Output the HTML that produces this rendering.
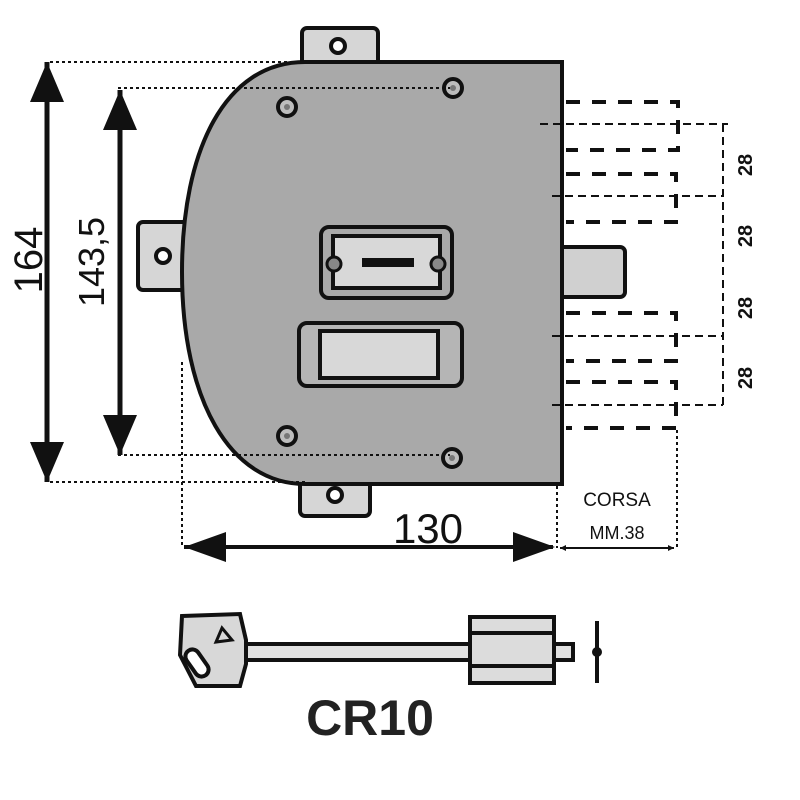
<!DOCTYPE html>
<html><head><meta charset="utf-8"><style>html,body{margin:0;padding:0;background:#fff}svg{display:block}</style></head>
<body>
<svg width="800" height="800" viewBox="0 0 800 800" xmlns="http://www.w3.org/2000/svg" font-family="Liberation Sans, sans-serif">
<defs>
<marker id="ah" viewBox="0 0 10 10" refX="10" refY="5" markerWidth="6" markerHeight="6" orient="auto-start-reverse" markerUnits="userSpaceOnUse"><path d="M0,0 L10,5 L0,10z" fill="#111"/></marker>
</defs>
<!-- tabs -->
<g fill="#d6d6d6" stroke="#111" stroke-width="4">
<rect x="302" y="28" width="76" height="40" rx="5"/>
<rect x="300" y="478" width="70" height="38" rx="5"/>
<rect x="138" y="222" width="50" height="68" rx="5"/>
</g>
<g fill="#fff" stroke="#111" stroke-width="4">
<circle cx="338" cy="46" r="7"/><circle cx="335" cy="495" r="7"/><circle cx="163" cy="256" r="7"/>
</g>
<!-- deadbolt -->
<rect x="555" y="247" width="70" height="50" rx="5" fill="#d0d0d0" stroke="#111" stroke-width="4"/>
<!-- body -->
<path d="M562,62 L305,62 C225,62 182,150 182,272 C182,400 230,484 305,484 L562,484 Z" fill="#a9a9a9" stroke="#111" stroke-width="4"/>
<!-- screws -->
<g fill="#bdbdbd" stroke="#111" stroke-width="4">
<circle cx="287" cy="107" r="9"/><circle cx="453" cy="88" r="9"/><circle cx="287" cy="436" r="9"/><circle cx="452" cy="458" r="9"/>
</g>
<g fill="#777"><circle cx="287" cy="107" r="3"/><circle cx="453" cy="88" r="3"/><circle cx="287" cy="436" r="3"/><circle cx="452" cy="458" r="3"/></g>
<!-- escutcheon -->
<rect x="321" y="227" width="131" height="71" rx="8" fill="#a9a9a9" stroke="#111" stroke-width="4"/>
<rect x="333" y="236" width="107" height="52" fill="#d8d8d8" stroke="#111" stroke-width="4"/>
<circle cx="334" cy="264" r="7" fill="#888" stroke="#111" stroke-width="3"/>
<circle cx="438" cy="264" r="7" fill="#888" stroke="#111" stroke-width="3"/>
<rect x="362" y="258" width="52" height="9" fill="#111"/>
<!-- lower rect -->
<rect x="299" y="323" width="163" height="63" rx="8" fill="#b5b5b5" stroke="#111" stroke-width="4"/>
<rect x="320" y="331" width="118" height="47" fill="#d8d8d8" stroke="#111" stroke-width="4"/>
<!-- dashed bolts -->
<g fill="none" stroke="#111" stroke-width="4" stroke-dasharray="14,12">
<path d="M566,102 H678 V150 H566"/>
<path d="M566,174 H676 V222 H566"/>
<path d="M566,313 H676 V361 H566"/>
<path d="M566,382 H676 V428 H566"/>
</g>
<g fill="none" stroke="#111" stroke-width="2" stroke-dasharray="8,5">
<path d="M540,124 H728"/><path d="M552,196 H723"/><path d="M552,336 H723"/><path d="M552,405 H723"/>
<path d="M723,124 V405"/>
</g>
<g font-size="20" font-weight="bold" fill="#111" text-anchor="middle">
<text transform="translate(752,165) rotate(-90)">28</text>
<text transform="translate(752,236) rotate(-90)">28</text>
<text transform="translate(752,308) rotate(-90)">28</text>
<text transform="translate(752,378) rotate(-90)">28</text>
</g>
<!-- dimension dotted lines -->
<g fill="none" stroke="#111" stroke-width="2" stroke-dasharray="3,3">
<path d="M50,62 H305"/><path d="M118,88 H450"/><path d="M118,455 H450"/><path d="M50,482 H305"/>
<path d="M182,362 V548"/><path d="M557,486 V548"/><path d="M677,430 V548"/>
</g>
<!-- vertical dims -->
<line x1="47" y1="62" x2="47" y2="482" stroke="#111" stroke-width="5"/>
<path d="M47,62 L30,102 L64,102Z M47,482 L30,442 L64,442Z" fill="#111"/>
<line x1="120" y1="90" x2="120" y2="455" stroke="#111" stroke-width="5"/>
<path d="M120,90 L103,130 L137,130Z M120,455 L103,415 L137,415Z" fill="#111"/>
<text transform="translate(42,260) rotate(-90)" font-size="40" fill="#111" text-anchor="middle">164</text>
<text transform="translate(104,262) rotate(-90)" font-size="36" fill="#111" text-anchor="middle">143,5</text>
<!-- horizontal 130 -->
<line x1="184" y1="547" x2="553" y2="547" stroke="#111" stroke-width="4"/>
<path d="M184,547 L226,532 L226,562Z M555,547 L513,532 L513,562Z" fill="#111"/>
<text x="428" y="543" font-size="42" fill="#111" text-anchor="middle">130</text>
<line x1="560" y1="548" x2="674" y2="548" stroke="#111" stroke-width="2" marker-start="url(#ah)" marker-end="url(#ah)"/>
<text x="617" y="506" font-size="19" fill="#111" text-anchor="middle">CORSA</text>
<text x="617" y="539" font-size="18" fill="#111" text-anchor="middle">MM.38</text>
<!-- key -->
<rect x="240" y="644" width="333" height="16" fill="#e0e0e0" stroke="#111" stroke-width="4"/>
<path d="M182,616 L240,614 L246,640 L246,664 L240,686 L196,686 L180,655Z" fill="#d8d8d8" stroke="#111" stroke-width="4"/>
<rect x="190" y="648" width="14" height="30" rx="7" transform="rotate(-35 197 663)" fill="#fff" stroke="#111" stroke-width="4"/>
<path d="M222,628 L232,640 L216,642Z" fill="none" stroke="#111" stroke-width="3"/>
<rect x="470" y="617" width="84" height="66" fill="#dcdcdc" stroke="#111" stroke-width="4"/>
<line x1="472" y1="633" x2="552" y2="633" stroke="#111" stroke-width="4"/>
<line x1="472" y1="666" x2="552" y2="666" stroke="#111" stroke-width="4"/>
<line x1="597" y1="621" x2="597" y2="683" stroke="#111" stroke-width="4"/>
<circle cx="597" cy="652" r="5" fill="#111"/>
<text x="370" y="735" font-size="50" font-weight="bold" fill="#222" text-anchor="middle">CR10</text>
</svg>
</body></html>
